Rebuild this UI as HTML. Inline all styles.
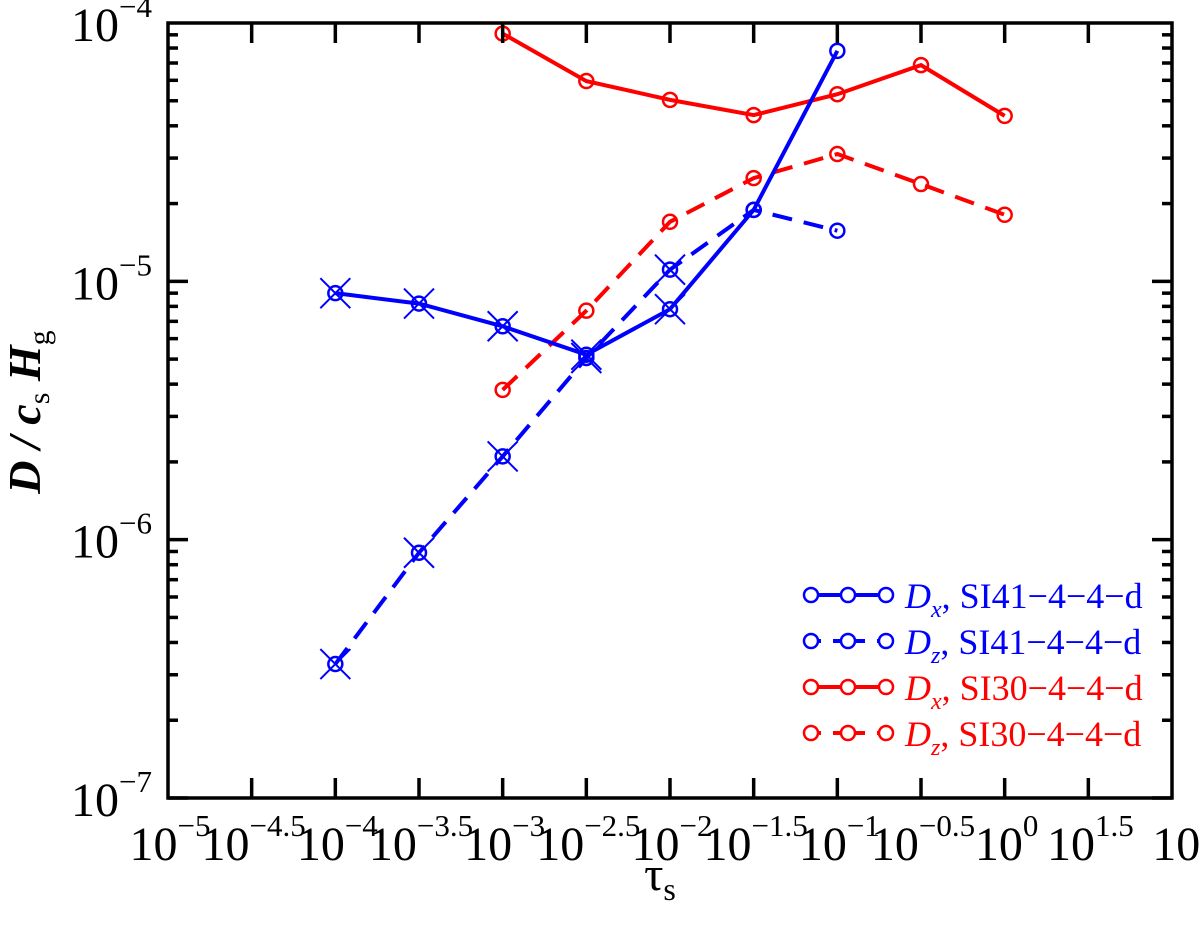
<!DOCTYPE html>
<html><head><meta charset="utf-8"><style>
body{margin:0;background:#fff}
svg{display:block;font-family:"Liberation Serif",serif}
</style></head><body>
<svg id="chart" width="1200" height="926" viewBox="0 0 1200 926" xmlns="http://www.w3.org/2000/svg">
<g id="grid"></g>
<g id="series"></g>
<rect x="168" y="23" width="1004" height="775" fill="none" stroke="#000" stroke-width="3.5"/>
<g id="axes"></g>
<text transform="translate(40,412) rotate(-90)" text-anchor="middle" font-size="46" font-style="italic" font-weight="bold">D / c<tspan font-size="30" dy="9" font-style="normal" font-weight="normal">s</tspan><tspan dy="-9"> H</tspan><tspan font-size="30" dy="9" font-style="normal" font-weight="normal">g</tspan></text>
<text x="660" y="890" text-anchor="middle" font-size="48">τ<tspan font-size="32" dy="10">s</tspan></text>
<g id="legend"></g>
</svg>
<script>
const tauLog = [-4,-3.5,-3,-2.5,-2,-1.5,-1,-0.5,0];
const blueDx = [9.0e-6,8.2e-6,6.7e-6,5.2e-6,7.8e-6,1.89e-5,7.8e-5,null,null];
const blueDz = [3.3e-7,8.9e-7,2.1e-6,5.05e-6,1.11e-5,1.89e-5,1.57e-5,null,null];
const redDx  = [null,null,9.1e-5,5.96e-5,5.04e-5,4.4e-5,5.3e-5,6.87e-5,4.37e-5];
const redDz  = [null,null,3.8e-6,7.7e-6,1.7e-5,2.51e-5,3.11e-5,2.38e-5,1.81e-5];
const xTickLabels = ["−5","−4.5","−4","−3.5","−3","−2.5","−2","−1.5","−1","−0.5","0","1.5","1"];
const yTickExps = ["−4","−5","−6","−7"];
const legendLabels = ["SI41−4−4−d","SI41−4−4−d","SI30−4−4−d","SI30−4−4−d"];
const legendSubs = ["x","z","x","z"];

const NS="http://www.w3.org/2000/svg";
const X0=168,X1=1172,Y0=23,Y1=798;
const xs=l=>X0+(l+5)/6*(X1-X0);
const ys=v=>Y0+(-4-Math.log10(v))/3*(Y1-Y0);
function mk(tag,attrs,parent){const e=document.createElementNS(NS,tag);for(const k in attrs)e.setAttribute(k,attrs[k]);parent.appendChild(e);return e;}
const axes=document.getElementById('axes'),series=document.getElementById('series'),legend=document.getElementById('legend');

for(let i=0;i<=12;i++){
  const x=X0+i*(X1-X0)/12;
  if(i>0&&i<12){
    const t=mk('line',{x1:x,x2:x,y1:Y1,y2:Y1-20,stroke:'#000','stroke-width':3.5},axes);
    
    
    const t2=mk('line',{x1:x,x2:x,y1:Y0,y2:Y0+20,stroke:'#000','stroke-width':3.5},axes);
    
    
  }
  const lab=mk('text',{x:(i===12?x+12:x+2),y:860,'text-anchor':'middle','font-size':48},axes);
  
  
  lab.textContent='10';
  const sp=mk('tspan',{'font-size':31,dy:-24},lab);sp.textContent=xTickLabels[i];
}
for(let d=0;d<3;d++){
  for(let m=1;m<=9;m++){
    const v=Math.pow(10,-7+d)*m;
    const y=ys(v);
    const len=m===1?20:10;
    const a=mk('line',{x1:X0,x2:X0+len,y1:y,y2:y,stroke:'#000','stroke-width':3.5},axes);
    
    
    const b=mk('line',{x1:X1,x2:X1-len,y1:y,y2:y,stroke:'#000','stroke-width':3.5},axes);
    
    
  }
}
for(let i=0;i<4;i++){
  const y=Y0+i*(Y1-Y0)/3;
  const lab=mk('text',{x:152,y:y+18,'text-anchor':'end','font-size':48},axes);
  
  
  lab.textContent='10';
  const sp=mk('tspan',{'font-size':31,dy:-24},lab);sp.textContent=yTickExps[i];
}

function drawSeries(vals,color,dash,name,withX){
  const pts=[];
  vals.forEach((v,i)=>{if(v!=null)pts.push([xs(tauLog[i]),ys(v),tauLog[i]]);});
  const p=mk('polyline',{points:pts.map(q=>q[0]+','+q[1]).join(' '),fill:'none',stroke:color,'stroke-width':4},series);
  if(dash)p.setAttribute('stroke-dasharray','20 12');
  
  
  pts.forEach(q=>{
    const c=mk('circle',{cx:q[0],cy:q[1],r:7,fill:'none',stroke:color,'stroke-width':2.5},series);
    
    
    if(withX&&q[2]<=-2){
      const s=15;
      const xm=mk('path',{d:`M${q[0]-s},${q[1]-s}L${q[0]+s},${q[1]+s}M${q[0]-s},${q[1]+s}L${q[0]+s},${q[1]-s}`,stroke:color,'stroke-width':2},series);
      
      
    }
  });
}
drawSeries(redDx,'#ff0000',false,'red-dx',false);
drawSeries(redDz,'#ff0000',true,'red-dz',false);
drawSeries(blueDz,'#0000ff',true,'blue-dz',true);
drawSeries(blueDx,'#0000ff',false,'blue-dx',true);

const cols=['#0000ff','#0000ff','#ff0000','#ff0000'];
for(let i=0;i<4;i++){
  const y=595+i*46;
  const g=mk('g',{},legend);
  
  
  const ln=mk('line',{x1:811,x2:886,y1:y,y2:y,stroke:cols[i],'stroke-width':4},g);
  if(i%2===1)ln.setAttribute('stroke-dasharray','10 12');
  [811,848,886].forEach(cx=>mk('circle',{cx:cx,cy:y,r:7,fill:'#fff',stroke:cols[i],'stroke-width':2.5},g));
  const t=mk('text',{x:905,y:y+13,'font-size':36,fill:cols[i]},g);
  const d=mk('tspan',{'font-style':'italic'},t);d.textContent='D';
  const s=mk('tspan',{'font-style':'italic','font-size':24,dy:9},t);s.textContent=legendSubs[i];
  const r=mk('tspan',{dy:-9},t);r.textContent=', '+legendLabels[i];
}
</script>
</body></html>
